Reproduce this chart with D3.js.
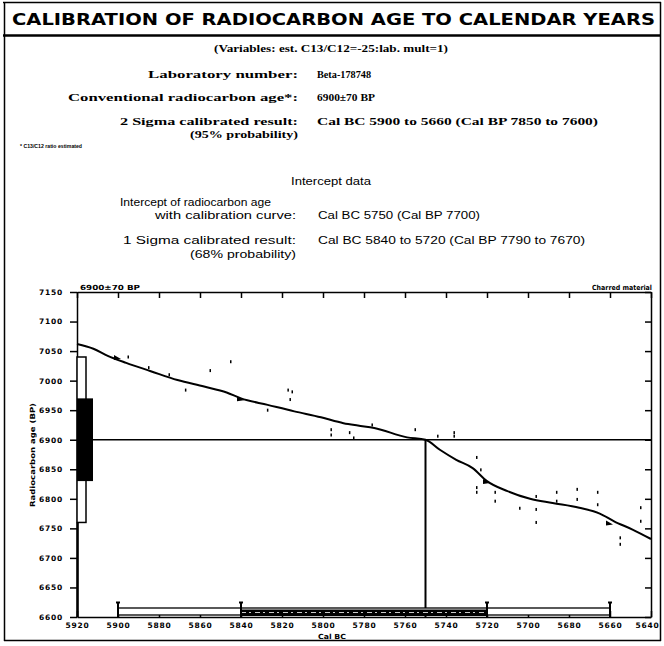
<!DOCTYPE html>
<html>
<head>
<meta charset="utf-8">
<script src="https://cdn.jsdelivr.net/npm/d3@7"></script>
<style>
  html, body { margin: 0; padding: 0; background: #fff; }
  svg { display: block; }
  .tick text { font-family: "DejaVu Sans", sans-serif; font-weight: bold; font-size: 7.5px; letter-spacing: 0.8px; fill: #000; }
  .domain { stroke: #000; stroke-width: 1.5px; }
  .tick line { stroke: #000; stroke-width: 1.5px; }
</style>
</head>
<body>
<svg id="chart" width="664" height="646"></svg>
<script>
// Calendar axis (cal BC) and radiocarbon age axis (BP)
const calTicks = [5920, 5900, 5880, 5860, 5840, 5820, 5800, 5780, 5760, 5740, 5720, 5700, 5680, 5660, 5640];
const ageTicks = [7150, 7100, 7050, 7000, 6950, 6900, 6850, 6800, 6750, 6700, 6650, 6600];

// Calibration curve: cal BC year, radiocarbon age BP
const curveCal = [5920, 5912, 5905, 5896, 5884, 5871, 5858, 5847, 5840, 5827, 5814, 5801, 5790, 5783, 5775, 5759, 5750, 5743, 5735, 5727, 5720, 5710, 5699, 5688, 5675, 5665, 5658, 5649, 5640];
const curveAge = [7062, 7054, 7042, 7030, 7016, 7001, 6990, 6980, 6970, 6959, 6948, 6938, 6928, 6924, 6920, 6904, 6900, 6883, 6866, 6852, 6830, 6813, 6800, 6793, 6785, 6775, 6762, 6748, 6732];

// Scattered calibration data points near the curve
const dotCal = [5895, 5885, 5875, 5867, 5855, 5845, 5827, 5817, 5815, 5816, 5796, 5796, 5787, 5785, 5776, 5755, 5744, 5736, 5736, 5725, 5725, 5725, 5723, 5716, 5716, 5704, 5696, 5696, 5696, 5686, 5686, 5676, 5676, 5666, 5666, 5655, 5655, 5645, 5645];
const dotAge = [7040, 7022, 7010, 6984, 7017, 7032, 6950, 6984, 6981, 6968, 6917, 6908, 6912, 6903, 6925, 6917, 6906, 6912, 6906, 6870, 6819, 6811, 6849, 6811, 6796, 6784, 6804, 6782, 6760, 6811, 6796, 6816, 6799, 6811, 6790, 6734, 6723, 6785, 6762];

// Measured age and its ranges
const measuredAge = 6900;
const sigma = 70;
const interceptCal = 5750;
const oneSigmaCal = [5840, 5720];
const twoSigmaCal = [5900, 5660];

// Text block: label / value pairs
const infoLabels = ["Laboratory number:", "Conventional radiocarbon age*:", "2 Sigma calibrated result:"];
const infoValues = ["Beta-178748", "6900\u00b170 BP", "Cal BC 5900 to 5660 (Cal BP 7850 to 7600)"];
const interceptLabels = ["with calibration curve:", "1 Sigma calibrated result:"];
const interceptValues = ["Cal BC 5750 (Cal BP 7700)", "Cal BC 5840 to 5720 (Cal BP 7790 to 7670)"];

const svg = d3.select("#chart");

// ---------- page frame ----------
const frame = svg.append("g").attr("fill", "none").attr("stroke", "#000");
frame.append("line").attr("x1", 3).attr("x2", 661).attr("y1", 2.5).attr("y2", 2.5).attr("stroke-width", 1.5);
frame.append("line").attr("x1", 3).attr("x2", 661).attr("y1", 35.5).attr("y2", 35.5).attr("stroke-width", 2.5);
frame.append("line").attr("x1", 4.5).attr("x2", 4.5).attr("y1", 2).attr("y2", 641).attr("stroke-width", 1.5);
frame.append("line").attr("x1", 660.5).attr("x2", 660.5).attr("y1", 2).attr("y2", 641).attr("stroke-width", 1.5);
frame.append("line").attr("x1", 4).attr("x2", 661).attr("y1", 640.5).attr("y2", 640.5).attr("stroke-width", 1.5);

// helper for fitted text
function txt(x, y, s, opts) {
  const o = Object.assign({ size: 11, weight: "bold", family: "Liberation Serif, serif", anchor: "start", len: null }, opts || {});
  const t = svg.append("text")
    .attr("x", x).attr("y", y)
    .attr("font-family", o.family)
    .attr("font-weight", o.weight)
    .attr("font-size", o.size)
    .attr("text-anchor", o.anchor)
    .attr("fill", "#000")
    .text(s);
  if (o.len) t.attr("textLength", o.len).attr("lengthAdjust", "spacingAndGlyphs");
  return t;
}

// ---------- title ----------
txt(12, 25, "CALIBRATION OF RADIOCARBON  AGE TO CALENDAR YEARS",
  { size: 15, family: "DejaVu Sans, sans-serif", len: 643 });

// ---------- info block ----------
txt(331, 52, "(Variables: est. C13/C12=-25:lab. mult=1)", { anchor: "middle", size: 11, len: 234 });
const infoY = [78, 101, 125];
const infoLabelLen = [150, 230, 178];
const infoValueLen = [54, 58, 281];
infoLabels.forEach((s, i) => {
  txt(298, infoY[i], s, { anchor: "end", size: 11, len: infoLabelLen[i] });
  txt(317, infoY[i], infoValues[i], { size: 11, len: infoValueLen[i] });
});
txt(298, 138, "(95% probability)", { anchor: "end", size: 11, len: 108 });
txt(20, 148, "* C13/C12 ratio estimated", { size: 5, family: "Liberation Sans, sans-serif", weight: "bold", len: 62 });

// ---------- intercept block ----------
const sans = "Liberation Sans, sans-serif";
txt(331, 185, "Intercept data", { anchor: "middle", size: 10, family: sans, weight: "normal", len: 80 });
txt(271, 206, "Intercept of radiocarbon age", { anchor: "end", size: 10, family: sans, weight: "normal", len: 151 });
const intY = [219, 244];
const intLabelLen = [141, 173];
const intValueLen = [162, 267];
interceptLabels.forEach((s, i) => {
  txt(296, intY[i], s, { anchor: "end", size: 10, family: sans, weight: "normal", len: intLabelLen[i] });
  txt(318, intY[i], interceptValues[i], { size: 10, family: sans, weight: "normal", len: intValueLen[i] });
});
txt(296, 258, "(68% probability)", { anchor: "end", size: 10, family: sans, weight: "normal", len: 106 });

// ---------- plot ----------
const x = d3.scaleLinear().domain([5920, 5640]).range([77, 651]);
const y = d3.scaleLinear().domain([6600, 7150]).range([617, 292]);
const fmt = d3.format("d");

const plot = svg.append("g");

// axes
plot.append("g").attr("transform", "translate(77,0)")
  .call(d3.axisLeft(y).tickValues(ageTicks).tickFormat(fmt).tickSize(7).tickPadding(7).tickSizeOuter(0));
plot.append("g").attr("transform", "translate(651,0)")
  .call(d3.axisLeft(y).tickValues(ageTicks).tickSize(6).tickFormat("").tickSizeOuter(0));
plot.append("g").attr("transform", "translate(0,292)")
  .call(d3.axisBottom(x).tickValues(calTicks).tickSize(6).tickFormat("").tickSizeOuter(0));
plot.append("g").attr("transform", "translate(0,617)")
  .call(d3.axisTop(x).tickValues(calTicks).tickSize(6).tickFormat("").tickSizeOuter(0));
const xLab = plot.append("g").attr("transform", "translate(0,617)")
  .call(d3.axisBottom(x).tickValues(calTicks).tickFormat(fmt).tickSize(0).tickPadding(6).tickSizeOuter(0));
xLab.select(".domain").remove();
// keep the last calendar label inside the frame
xLab.selectAll(".tick text").filter((d) => d === 5640).attr("text-anchor", "end").attr("dx", 8);

// axis titles and header labels
txt(33, 455, "Radiocarbon age (BP)", { anchor: "middle", size: 7, family: "DejaVu Sans, sans-serif", len: 104 })
  .attr("transform", "rotate(-90,33,455)").attr("dy", "0.35em");
txt(332, 639, "Cal BC", { anchor: "middle", size: 7, family: "DejaVu Sans, sans-serif", len: 28 });
txt(80, 290, "6900\u00b170 BP", { size: 7, family: "DejaVu Sans, sans-serif", len: 60 });
txt(652, 290, "Charred material", { anchor: "end", size: 7, family: "DejaVu Sans, sans-serif", len: 60 });

// measured age line and intercept
plot.append("line")
  .attr("x1", x(5920)).attr("x2", x(5640))
  .attr("y1", y(measuredAge)).attr("y2", y(measuredAge))
  .attr("stroke", "#000").attr("stroke-width", 1.6);
plot.append("line")
  .attr("x1", x(interceptCal)).attr("x2", x(interceptCal))
  .attr("y1", y(measuredAge)).attr("y2", y(6600))
  .attr("stroke", "#000").attr("stroke-width", 2);

// radiocarbon age distribution on the age axis
plot.append("rect")
  .attr("x", x(5920)).attr("width", 9)
  .attr("y", y(measuredAge + 2 * sigma)).attr("height", y(measuredAge - 2 * sigma) - y(measuredAge + 2 * sigma))
  .attr("fill", "#fff").attr("stroke", "#000").attr("stroke-width", 1.5);
plot.append("rect")
  .attr("x", x(5920)).attr("width", 16)
  .attr("y", y(measuredAge + sigma)).attr("height", y(measuredAge - sigma) - y(measuredAge + sigma))
  .attr("fill", "#000");
plot.append("line")
  .attr("x1", x(5920) + 0.5).attr("x2", x(5920) + 0.5)
  .attr("y1", y(measuredAge - 2 * sigma)).attr("y2", y(6600))
  .attr("stroke", "#000").attr("stroke-width", 2.5);

// calibration curve
const line = d3.line().x((d, i) => x(curveCal[i])).y((d, i) => y(curveAge[i])).curve(d3.curveMonotoneX);
plot.append("path").datum(curveCal).attr("d", line)
  .attr("fill", "none").attr("stroke", "#000").attr("stroke-width", 2);

// calibration data points
plot.append("g").selectAll("rect").data(dotCal).join("rect")
  .attr("x", (d) => x(d) - 0.75).attr("y", (d, i) => y(dotAge[i]) - 1.5)
  .attr("width", 1.5).attr("height", 3).attr("fill", "#000");

// markers where the sigma limits meet the curve
const markCal = [twoSigmaCal[0], oneSigmaCal[0], oneSigmaCal[1], twoSigmaCal[1]];
const markAge = [measuredAge + 2 * sigma, measuredAge + sigma, measuredAge - sigma, measuredAge - 2 * sigma];
plot.append("g").selectAll("path").data(markCal).join("path")
  .attr("d", (d, i) => {
    const cx = x(d), cy = y(markAge[i]);
    return `M${cx - 4},${cy - 2}L${cx + 3},${cy + 2}L${cx - 4},${cy + 3}Z`;
  })
  .attr("fill", "#000");

// calibrated ranges on the calendar axis
plot.append("rect")
  .attr("x", x(twoSigmaCal[0])).attr("width", x(twoSigmaCal[1]) - x(twoSigmaCal[0]))
  .attr("y", 608).attr("height", 7)
  .attr("fill", "#fff").attr("stroke", "#000").attr("stroke-width", 1.3);
plot.append("rect")
  .attr("x", x(oneSigmaCal[0])).attr("width", x(oneSigmaCal[1]) - x(oneSigmaCal[0]))
  .attr("y", 609.5).attr("height", 6.5)
  .attr("fill", "#000");
plot.append("line")
  .attr("x1", x(oneSigmaCal[0])).attr("x2", x(oneSigmaCal[1]))
  .attr("y1", 612.5).attr("y2", 612.5)
  .attr("stroke", "#fff").attr("stroke-width", 0.8).attr("stroke-dasharray", "5,3,2,4");
const brackets = plot.append("g").attr("stroke", "#000").attr("stroke-width", 2);
markCal.forEach((c) => {
  brackets.append("line").attr("x1", x(c)).attr("x2", x(c)).attr("y1", 602).attr("y2", 617);
  brackets.append("line").attr("x1", x(c) - 2).attr("x2", x(c) + 2).attr("y1", 602.5).attr("y2", 602.5);
});
</script>
</body>
</html>
